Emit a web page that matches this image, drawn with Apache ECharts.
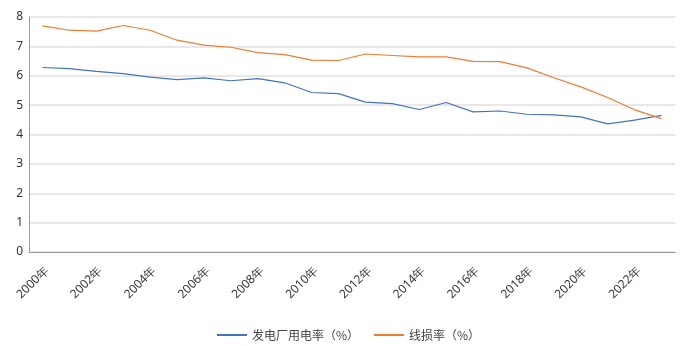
<!DOCTYPE html>
<html><head><meta charset="utf-8">
<script src="https://cdn.jsdelivr.net/npm/echarts@6/dist/echarts.min.js"></script>
<style>html,body{margin:0;padding:0;background:#fff}#c{width:687px;height:346px}</style>
</head><body><div id="c"></div>
<script>
var years = ['2000年','2001年','2002年','2003年','2004年','2005年','2006年','2007年','2008年','2009年','2010年','2011年','2012年','2013年','2014年','2015年','2016年','2017年','2018年','2019年','2020年','2021年','2022年','2023年'];
var plantUse = [6.28,6.24,6.15,6.07,5.95,5.87,5.93,5.83,5.90,5.76,5.43,5.39,5.10,5.05,4.85,5.09,4.77,4.80,4.69,4.67,4.60,4.36,4.49,4.65];
var lineLoss = [7.70,7.55,7.52,7.71,7.55,7.21,7.04,6.97,6.79,6.72,6.53,6.52,6.74,6.69,6.64,6.64,6.49,6.48,6.27,5.93,5.62,5.26,4.84,4.54];
var seriesNames = ['发电厂用电率（%）','线损率（%）'];
var chart = echarts.init(document.getElementById('c'));
chart.setOption({
  animation:false,
  color:['#4472C4','#ED7D31'],
  grid:{left:29,right:12,top:17,bottom:94,containLabel:false},
  legend:{bottom:0,left:212,itemWidth:30,itemHeight:2,itemGap:15,icon:'rect',
    textStyle:{color:'#444',fontSize:12,fontFamily:'Noto Sans CJK SC'},
    data:seriesNames},
  xAxis:{type:'category',data:years,boundaryGap:true,
    axisLine:{lineStyle:{color:'#999'}},
    axisTick:{alignWithLabel:true,interval:1,lineStyle:{color:'#999'}},
    axisLabel:{interval:1,rotate:45,color:'#333',fontSize:12,fontFamily:'Noto Sans',margin:21,padding:[0,-6,0,0]}},
  yAxis:{type:'value',min:0,max:8,interval:1,
    axisLine:{show:true,lineStyle:{color:'#999'}},
    axisTick:{show:false},
    axisLabel:{color:'#333',fontSize:12,margin:6,fontFamily:'Noto Sans'},
    splitLine:{lineStyle:{color:'#e0e0e0',width:1.5}}},
  series:[
    {name:seriesNames[0],type:'line',data:plantUse,symbol:'none',lineStyle:{width:1.2}},
    {name:seriesNames[1],type:'line',data:lineLoss,symbol:'none',lineStyle:{width:1.2}}
  ]
});
</script></body></html>
